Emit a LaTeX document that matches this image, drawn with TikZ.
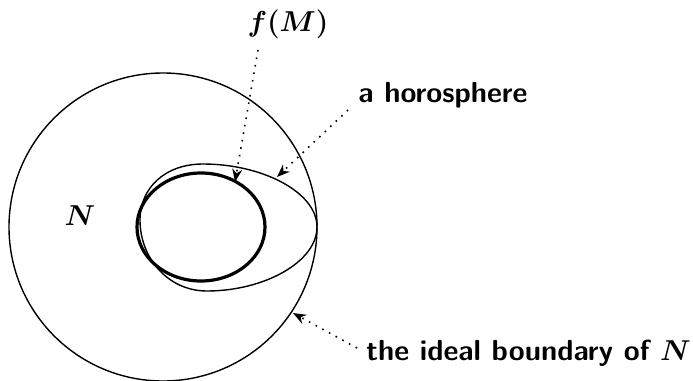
\documentclass[tikz,border=0pt]{standalone}
\usetikzlibrary{arrows.meta}
\begin{document}
\begin{tikzpicture}[x=0.5pt,y=-0.5pt,
  lbl/.style={inner sep=0pt,font=\fontsize{14.5}{17}\selectfont\sffamily\bfseries\boldmath},
  thinline/.style={line width=0.7pt},
  thickline/.style={line width=1.6pt},
  pointer/.style={line width=0.8pt,dash pattern=on 0.8pt off 3pt,-{Stealth[length=6.5pt,width=5pt]}}]
\useasboundingbox (0,0) rectangle (693,381);
% ideal boundary
\draw[thinline] (163,227) circle [radius=77pt];
% f(M)
\draw[thickline] (201,227) ellipse [x radius=32pt, y radius=27pt];
% horosphere
\draw[thinline] (317,227) .. controls (317,192) and (262,164) .. (203,164)
  .. controls (165,164) and (140,188) .. (140,220)
  .. controls (140,258) and (168,291) .. (207,291)
  .. controls (264,291) and (317,262) .. (317,227) -- cycle;
% labels
\node[lbl,anchor=base] (fM) at (288,31) {$f(M)$};
\node[lbl,anchor=base west] (horo) at (358,102) {a horosphere};
\node[lbl,anchor=base west] (ideal) at (366,360) {the ideal boundary of $N$};
\node[lbl,anchor=base] (N) at (80,225) {$N$};
% pointer ends
\coordinate (fMs) at (258,50);
\coordinate (fMt) at (235,182);
\coordinate (hs) at (348,110);
\coordinate (ht) at (277,177);
\coordinate (is) at (357,348);
\coordinate (it) at (293,313);
\draw[pointer] (fMs) -- (fMt);
\draw[pointer] (hs) -- (ht);
\draw[pointer] (is) -- (it);
\end{tikzpicture}
\end{document}
